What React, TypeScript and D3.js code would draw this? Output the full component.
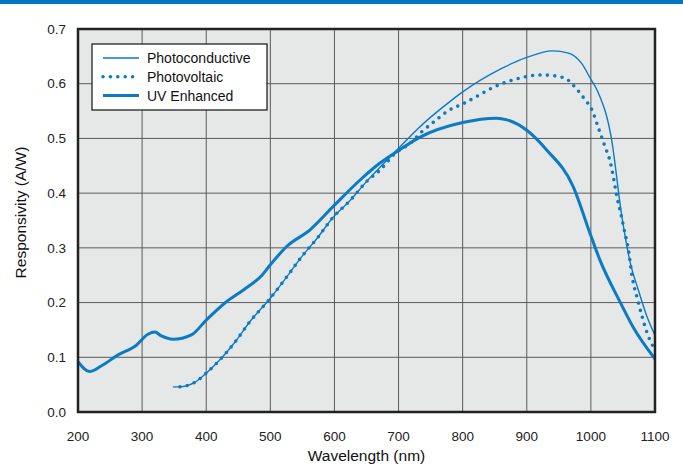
import * as d3 from 'd3'

const W = 683
const H = 466
const MARGIN = { top: 29, right: 28, bottom: 54, left: 78 }

const X_TICKS = [200, 300, 400, 500, 600, 700, 800, 900, 1000, 1100]
const Y_TICKS = [0, 0.1, 0.2, 0.3, 0.4, 0.5, 0.6, 0.7]

// UV Enhanced (thick)
const uvWl = [200, 218, 236, 262, 291, 309, 320, 330, 348, 377, 400, 432, 458, 487, 500, 525, 562, 600, 640, 671, 700, 733, 800, 853, 869, 900, 931, 972, 1000, 1014, 1046, 1066, 1100]
const uvR = [0.092, 0.074, 0.084, 0.104, 0.122, 0.142, 0.146, 0.139, 0.133, 0.141, 0.168, 0.202, 0.223, 0.25, 0.269, 0.302, 0.333, 0.378, 0.424, 0.455, 0.478, 0.502, 0.529, 0.537, 0.534, 0.515, 0.479, 0.413, 0.322, 0.278, 0.2, 0.155, 0.097]

// Photoconductive (thin)
const pcWl = [348, 359, 382, 400, 421, 445, 468, 500, 525, 549, 574, 598, 624, 650, 700, 733, 783, 800, 861, 900, 940, 965, 985, 1000, 1011, 1032, 1048, 1061, 1074, 1087, 1100]
const pcR = [0.046, 0.046, 0.054, 0.071, 0.095, 0.128, 0.165, 0.208, 0.246, 0.284, 0.319, 0.356, 0.386, 0.421, 0.482, 0.521, 0.57, 0.585, 0.628, 0.648, 0.66, 0.656, 0.638, 0.608, 0.585, 0.5, 0.36, 0.275, 0.223, 0.176, 0.14]

// Photovoltaic (dotted)
const pvWl = [359, 382, 400, 421, 445, 468, 500, 525, 549, 574, 598, 624, 650, 671, 695, 718, 736, 757, 778, 800, 861, 924, 958, 975, 992, 1000, 1013, 1022, 1030, 1035, 1040, 1046, 1052, 1059, 1064, 1073, 1080, 1087, 1097, 1100]
const pvR = [0.046, 0.054, 0.071, 0.095, 0.128, 0.165, 0.208, 0.246, 0.284, 0.319, 0.356, 0.386, 0.421, 0.442, 0.473, 0.491, 0.512, 0.532, 0.551, 0.563, 0.6, 0.616, 0.611, 0.594, 0.569, 0.556, 0.515, 0.485, 0.458, 0.43, 0.397, 0.366, 0.333, 0.293, 0.25, 0.205, 0.174, 0.147, 0.12, 0.115]

const BLUE = '#0a7bc4'
const FONT = '"Liberation Sans", Arial, Helvetica, sans-serif'

type Pt = { x: number; y: number }
const zip = (xs: number[], ys: number[]): Pt[] => xs.map((x, i) => ({ x, y: ys[i] }))

export default function App() {
  const iw = W - MARGIN.left - MARGIN.right
  const ih = H - MARGIN.top - MARGIN.bottom
  const x = d3.scaleLinear().domain([200, 1100]).range([0, iw])
  const y = d3.scaleLinear().domain([0, 0.7]).range([ih, 0])
  const line = d3.line<Pt>().x(d => x(d.x)).y(d => y(d.y)).curve(d3.curveMonotoneX)

  const legend = [
    { label: 'Photoconductive', w: 1.4, dash: undefined as string | undefined },
    { label: 'Photovoltaic', w: 3.6, dash: '0 7.4' },
    { label: 'UV Enhanced', w: 3, dash: undefined },
  ]

  return (
    <svg width={W} height={H} style={{ position: 'absolute', left: 0, top: 0, background: '#fff' }} fontFamily={FONT}>
      <rect x={0} y={0} width={W} height={4} fill="#0077c0" />
      <g transform={`translate(${MARGIN.left},${MARGIN.top})`}>
        <rect x={0} y={0} width={iw} height={ih} fill="#e6e7e7" />
        {X_TICKS.slice(1, -1).map(t => (
          <line key={'gx' + t} x1={x(t)} x2={x(t)} y1={0} y2={ih} stroke="#5a5a5a" strokeWidth={1} />
        ))}
        {Y_TICKS.slice(1, -1).map(t => (
          <line key={'gy' + t} x1={0} x2={iw} y1={y(t)} y2={y(t)} stroke="#5a5a5a" strokeWidth={1} />
        ))}

        <path d={line(zip(pcWl, pcR)) || ''} fill="none" stroke={BLUE} strokeWidth={1.4} />
        <path d={line(zip(pvWl, pvR)) || ''} fill="none" stroke={BLUE} strokeWidth={3.6}
          strokeDasharray="0 7.4" strokeLinecap="round" />
        <path d={line(zip(uvWl, uvR)) || ''} fill="none" stroke={BLUE} strokeWidth={3} />

        <rect x={0} y={0} width={iw} height={ih} fill="none" stroke="#222" strokeWidth={2.5} />

        {X_TICKS.map(t => (
          <text key={'tx' + t} x={x(t)} y={ih + 29} textAnchor="middle" fontSize={13.5} fill="#222">{t}</text>
        ))}
        {Y_TICKS.map(t => (
          <text key={'ty' + t} x={-12} y={y(t)} dy="0.35em" textAnchor="end" fontSize={13.5} fill="#222">{t.toFixed(1)}</text>
        ))}
        <text x={iw / 2} y={ih + 49} textAnchor="middle" fontSize={15.5} fill="#111">Wavelength (nm)</text>
        <text transform={`translate(${-52},${ih / 2 - 8}) rotate(-90)`} textAnchor="middle" fontSize={15.5} fill="#111">Responsivity (A/W)</text>

        <g transform="translate(14,15)">
          <rect x={0} y={0} width={175} height={66} fill="#fff" stroke="#222" strokeWidth={1.3} />
          {legend.map((l, i) => (
            <g key={l.label} transform={`translate(0,${14 + i * 18.8})`}>
              <line x1={11} x2={47} y1={0} y2={0} stroke={BLUE} strokeWidth={l.w}
                strokeDasharray={l.dash} strokeLinecap={l.dash ? 'round' : 'butt'} />
              <text x={55} y={0} dy="0.35em" fontSize={14} fill="#111">{l.label}</text>
            </g>
          ))}
        </g>
      </g>
    </svg>
  )
}
